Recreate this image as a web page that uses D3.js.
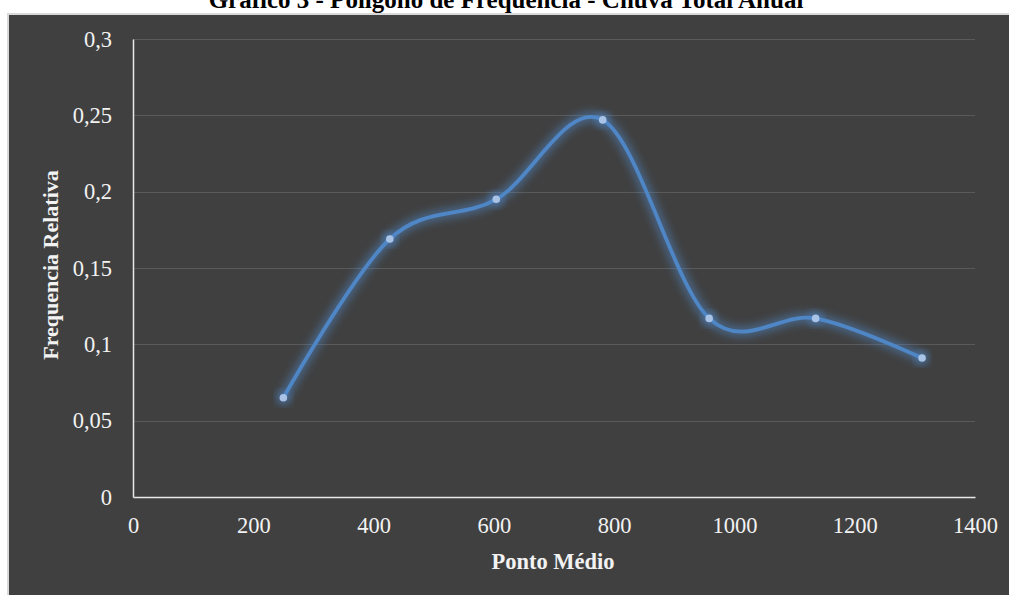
<!DOCTYPE html>
<html>
<head>
<meta charset="utf-8">
<script src="https://cdn.jsdelivr.net/npm/d3@7"></script>
<style>
  html, body { margin: 0; padding: 0; background: #ffffff; }
  svg { display: block; }
</style>
</head>
<body>
<svg id="chart" width="1009" height="595"></svg>
<script>
const pontoMedio = [250, 427, 604, 781, 958, 1135, 1312];
const freqRelativa = [0.065, 0.169, 0.195, 0.247, 0.117, 0.117, 0.091];
const xTicks = [0, 200, 400, 600, 800, 1000, 1200, 1400];
const yTicks = [0, 0.05, 0.1, 0.15, 0.2, 0.25, 0.3];
const yTickLabels = ["0", "0,05", "0,1", "0,15", "0,2", "0,25", "0,3"];
const titleText = "Gráfico 3 - Polígono de Frequência - Chuva Total Anual";
const xTitle = "Ponto Médio";
const yTitle = "Frequencia Relativa";

const svg = d3.select("#chart");
const W = 1009, H = 595;
const serif = "'Liberation Serif', 'Times New Roman', serif";

// panel
svg.append("rect").attr("x", 7).attr("y", 13).attr("width", W - 7).attr("height", H - 13)
  .attr("fill", "#d9d9d9");
svg.append("rect").attr("x", 9).attr("y", 15).attr("width", W - 9).attr("height", H - 15)
  .attr("fill", "#404040");

// title (cut at the top edge, as in the reference)
svg.append("text").attr("x", 506).attr("y", 8).attr("text-anchor", "middle")
  .attr("font-family", serif).attr("font-weight", "bold").attr("font-size", 25)
  .attr("fill", "#000").text(titleText);

const plot = { left: 133, right: 975, top: 39, bottom: 497 };
const x = d3.scaleLinear().domain([0, 1400]).range([plot.left, plot.right]);
const y = d3.scaleLinear().domain([0, 0.3]).range([plot.bottom, plot.top]);

const defs = svg.append("defs");
const f = defs.append("filter").attr("id", "glow").attr("x", "-20%").attr("y", "-20%")
  .attr("width", "140%").attr("height", "140%");
f.append("feGaussianBlur").attr("in", "SourceGraphic").attr("stdDeviation", 4);

// gridlines
svg.append("g").selectAll("line").data(yTicks.filter(d => d > 0)).join("line")
  .attr("x1", plot.left).attr("x2", plot.right)
  .attr("y1", d => Math.round(y(d)) + 0.5).attr("y2", d => Math.round(y(d)) + 0.5)
  .attr("stroke", "#5a5a5a").attr("stroke-width", 1);

// axes
const yAxis = d3.axisLeft(y).tickValues(yTicks).tickSize(0).tickPadding(21)
  .tickFormat((d, i) => yTickLabels[i]);
const gy = svg.append("g").attr("transform", `translate(${plot.left},0)`).call(yAxis);
gy.select(".domain").attr("stroke", "#e8e8e8").attr("stroke-width", 1.5);
gy.selectAll("text").attr("font-family", serif).attr("font-size", 22.5).attr("fill", "#f2f2f2");

const xAxis = d3.axisBottom(x).tickValues(xTicks).tickSize(0).tickPadding(20)
  .tickFormat(d3.format("d"));
const gx = svg.append("g").attr("transform", `translate(0,${plot.bottom})`).call(xAxis);
gx.select(".domain").attr("stroke", "#e8e8e8").attr("stroke-width", 1.5);
gx.selectAll("text").attr("font-family", serif).attr("font-size", 22.5).attr("fill", "#f2f2f2");

// axis titles
svg.append("text").attr("x", 553).attr("y", 569).attr("text-anchor", "middle")
  .attr("font-family", serif).attr("font-weight", "bold").attr("font-size", 22.5)
  .attr("fill", "#f2f2f2").text(xTitle);
svg.append("text").attr("transform", `translate(58,265) rotate(-90)`).attr("text-anchor", "middle")
  .attr("font-family", serif).attr("font-weight", "bold").attr("font-size", 22)
  .attr("fill", "#f2f2f2").text(yTitle);

// line
const data = pontoMedio.map((v, i) => ({ x: v, y: freqRelativa[i] }));
const line = d3.line().x(d => x(d.x)).y(d => y(d.y)).curve(d3.curveCatmullRom.alpha(0));

svg.append("path").datum(data).attr("d", line).attr("fill", "none")
  .attr("stroke", "#4f86c6").attr("stroke-width", 10).attr("stroke-opacity", 0.55)
  .attr("filter", "url(#glow)");
svg.append("g").selectAll("circle").data(data).join("circle")
  .attr("cx", d => x(d.x)).attr("cy", d => y(d.y)).attr("r", 7)
  .attr("fill", "#4f86c6").attr("opacity", 0.6).attr("filter", "url(#glow)");
svg.append("path").datum(data).attr("d", line).attr("fill", "none")
  .attr("stroke", "#4f86c6").attr("stroke-width", 3.8).attr("stroke-linecap", "round");
svg.append("g").selectAll("circle").data(data).join("circle")
  .attr("cx", d => x(d.x)).attr("cy", d => y(d.y)).attr("r", 3.8)
  .attr("fill", "#a9c3e6");
</script>
</body>
</html>
